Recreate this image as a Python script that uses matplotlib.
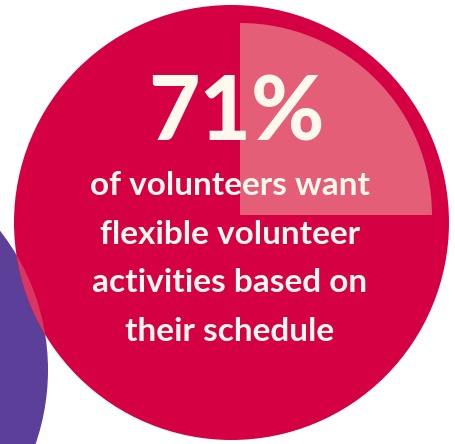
import matplotlib
matplotlib.use("Agg")
import matplotlib.pyplot as plt
from matplotlib.patches import Circle, Wedge

# headline figure and caption
pct = 71
caption = ["of volunteers want",
           "flexible volunteer",
           "activities based on",
           "their schedule"]

red = "#D50043"
pink = "#E35E76"
purple = "#5C3F98"
overlap = "#DA3663"
cream = "#FFF8EC"

fig = plt.figure(figsize=(4.56, 4.44), dpi=100)
ax = fig.add_axes([0, 0, 1, 1])
ax.set_xlim(0, 456)
ax.set_ylim(444, 0)
ax.set_aspect("equal")
ax.axis("off")

# background purple circle, mostly off canvas on the left
ax.add_patch(Circle((-178, 370), 226, color=purple, lw=0))

# main red circle
main = Circle((231.5, 222.5), 217.5, color=red, lw=0)
ax.add_patch(main)

# lighter band where the two circles overlap
ov = Circle((-178, 370), 226, color=overlap, lw=0)
ax.add_patch(ov)
ov.set_clip_path(main)

# quarter wedge (y axis is inverted, so angles go clockwise on screen)
ax.add_patch(Wedge((240, 215), 192, 270, 360, color=pink, lw=0))

font = "Lato"
ax.text(236, 140, f"{pct}%", color=cream, fontsize=64, fontweight="black",
        family=font, ha="center", va="baseline")

y0, dy = 195, 48.7
for i, line in enumerate(caption):
    ax.text(230, y0 + i * dy, line, color=cream, fontsize=24,
            fontweight="bold", family=font, ha="center", va="baseline")

fig.savefig("out.png", dpi=100)
